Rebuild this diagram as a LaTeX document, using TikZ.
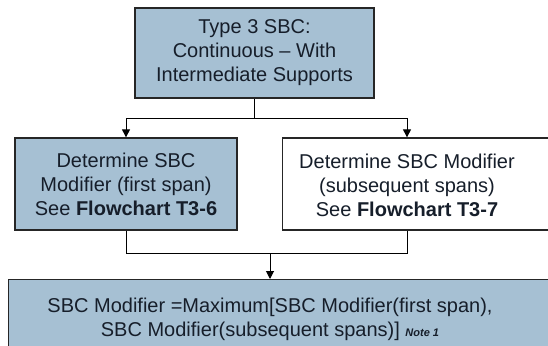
\documentclass[tikz,border=0pt]{standalone}
\usepackage{fontspec}
\setmainfont{Liberation Sans}
\usetikzlibrary{arrows.meta}
\definecolor{boxblue}{RGB}{166,192,211}
\definecolor{inkblue}{RGB}{22,30,42}
\begin{document}
\begin{tikzpicture}[x=1pt,y=-1pt,
    box/.style={draw=black!85, line width=1.3pt, inner sep=0pt},
    boxtext/.style={align=center, inner sep=0pt, text=inkblue, font=\fontsize{20}{24}\selectfont},
    link/.style={line width=1pt},
    arr/.style={link, -{Triangle[width=8pt,length=8pt]}}]
        \useasboundingbox (0,0) rectangle (548,345);
        \clip (0,0) rectangle (548,345);

        % Tipo de puente
        \node[box, boxtext, fill=boxblue, minimum width=239pt, minimum height=90pt] (tipo) at (254.5,53)
            {Type 3 SBC:\\Continuous -- With\\Intermediate Supports};

        % Primer tramo
        \node[box, boxtext, fill=boxblue, minimum width=222pt, minimum height=92pt] (first) at (126,184)
            {Determine SBC\\Modifier (first span)\\See \textbf{Flowchart T3-6}};

        % Tramos siguientes
        \node[box, fill=white, minimum width=290pt, minimum height=92pt, anchor=west] (sub) at (282,184) {};
        \node[boxtext] (subtxt) at (407,185)
            {Determine SBC Modifier\\(subsequent spans)\\See \textbf{Flowchart T3-7}};

        % Resultado
        \node[box, fill=boxblue, minimum width=560pt, minimum height=100pt, anchor=north west] (res) at (8,279) {};
        \node[boxtext] (restxt) at (270,319)
            {SBC Modifier =Maximum[SBC Modifier(first span),\\SBC Modifier(subsequent spans)] {\fontsize{11}{12}\selectfont\bfseries\itshape Note 1}};

        % Flechas
        \draw[link] (tipo.south) -- ++(0,20) coordinate (fork);
        \draw[arr] (fork) -| (first.north);
        \draw[arr] (fork) -| (sub.north -| subtxt);
        \draw[link] (first.south) -- ++(0,23) coordinate (join) -- (join -| subtxt) -- (sub.south -| subtxt);
        \draw[arr] (join -| restxt) -- (res.north -| restxt);
\end{tikzpicture}
\end{document}
